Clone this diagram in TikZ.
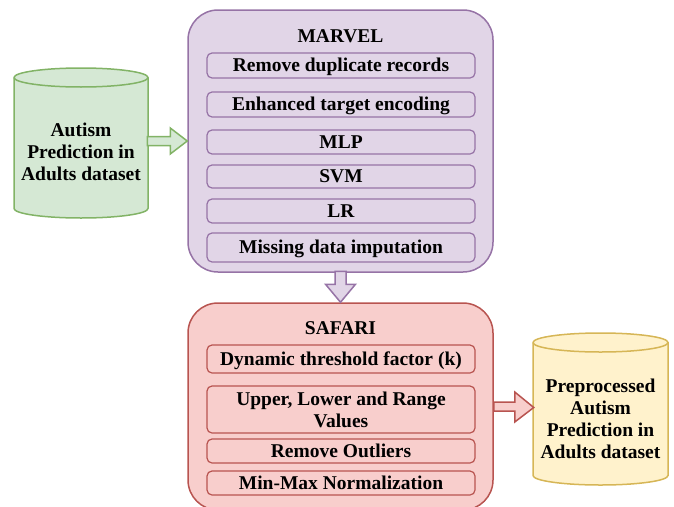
\documentclass[tikz,border=0pt]{standalone}
\usepackage{fontspec}
\setmainfont{Liberation Serif}
\usetikzlibrary{calc}
\definecolor{gfill}{HTML}{D5E8D4}\definecolor{gline}{HTML}{82B366}
\definecolor{pfill}{HTML}{E1D5E7}\definecolor{pline}{HTML}{9673A6}
\definecolor{rfill}{HTML}{F8CECC}\definecolor{rline}{HTML}{B85450}
\definecolor{yfill}{HTML}{FFF2CC}\definecolor{yline}{HTML}{D6B656}
\begin{document}
\begin{tikzpicture}[x=1pt,y=-1pt,
  txt/.style={font=\fontsize{19.5}{22}\selectfont\bfseries, align=center},
  outer/.style={draw, line width=1.5pt, rounded corners=30pt, minimum width=305pt, inner sep=0pt},
  inner/.style={txt, draw, line width=1.2pt, rounded corners=5pt, minimum width=268pt, inner sep=0pt},
  oneline/.style={text height=12.9pt, text depth=0pt},
  pbox/.style={inner, oneline, fill=pfill, draw=pline},
  rbox/.style={inner, fill=rfill, draw=rline},
  blockarrow/.style={line width=1.5pt, line join=miter}
]
\useasboundingbox (0,0) rectangle (674,506);

% input cylinder
\fill[gfill] (14,77.5) -- (14,208.5) arc[start angle=180,end angle=360,x radius=67,y radius=-9.5] -- (148,77.5) arc[start angle=0,end angle=180,x radius=67,y radius=-9.5] -- cycle;
\draw[gline, line width=1.5pt] (14,77.5) -- (14,208.5) arc[start angle=180,end angle=360,x radius=67,y radius=-9.5] -- (148,77.5) arc[start angle=0,end angle=180,x radius=67,y radius=-9.5] -- cycle;
\draw[gline, line width=1.5pt] (14,77.5) arc[start angle=180,end angle=360,x radius=67,y radius=-9.5];
\node[txt, minimum width=134pt] (in) at (81,152) {Autism\\Prediction in\\Adults dataset};

% output cylinder
\fill[yfill] (533,342.5) -- (533,475.5) arc[start angle=180,end angle=360,x radius=67.5,y radius=-9.5] -- (668,342.5) arc[start angle=0,end angle=180,x radius=67.5,y radius=-9.5] -- cycle;
\draw[yline, line width=1.5pt] (533,342.5) -- (533,475.5) arc[start angle=180,end angle=360,x radius=67.5,y radius=-9.5] -- (668,342.5) arc[start angle=0,end angle=180,x radius=67.5,y radius=-9.5] -- cycle;
\draw[yline, line width=1.5pt] (533,342.5) arc[start angle=180,end angle=360,x radius=67.5,y radius=-9.5];
\node[txt, minimum width=135pt] (out) at (600.5,419) {Preprocessed\\Autism\\Prediction in\\Adults dataset};

% MARVEL
\node[outer, fill=pfill, draw=pline, minimum height=262pt] (marvel) at (340.5,141) {};
\node[txt, oneline, inner sep=0pt] (mtitle) at (340.5,36.5) {MARVEL};
\node[pbox, minimum height=25pt] (m1) at (341,65.5) {Remove duplicate records};
\node[pbox, minimum height=25pt] (m2) at (341,104.5) {Enhanced target encoding};
\node[pbox, minimum height=24pt] (m3) at (341,142) {MLP};
\node[pbox, minimum height=23pt] (m4) at (341,176.5) {SVM};
\node[pbox, minimum height=24pt] (m5) at (341,211) {LR};
\node[pbox, minimum height=29pt] (m6) at (341,247.5) {Missing data imputation};

% SAFARI
\node[outer, fill=rfill, draw=rline, minimum height=207pt] (safari) at (340.5,406.5) {};
\node[txt, oneline, inner sep=0pt] (stitle) at (340.5,328) {SAFARI};
\node[rbox, oneline, minimum height=28pt] (s1) at (341,359) {Dynamic threshold factor (k)};
\node[rbox, minimum height=47pt] (s2) at (341,409.5) {Upper, Lower and Range\\Values};
\node[rbox, oneline, minimum height=24pt] (s3) at (341,451) {Remove Outliers};
\node[rbox, oneline, minimum height=24pt] (s4) at (341,483) {Min-Max Normalization};

% block arrows
\coordinate (gt) at (marvel.west);
\filldraw[blockarrow, fill=gfill, draw=gline]
  ($(gt)+(-40,-4.5)$) -- ($(gt)+(-17,-4.5)$) -- ($(gt)+(-17,-13)$) -- (gt)
  -- ($(gt)+(-17,13)$) -- ($(gt)+(-17,4.5)$) -- ($(gt)+(-40,4.5)$) -- cycle;
\coordinate (pt) at (safari.north);
\filldraw[blockarrow, fill=pfill, draw=pline]
  ($(pt)+(-5.5,-31)$) -- ($(pt)+(-5.5,-18)$) -- ($(pt)+(-15,-18)$) -- (pt)
  -- ($(pt)+(15,-18)$) -- ($(pt)+(5.5,-18)$) -- ($(pt)+(5.5,-31)$) -- cycle;
\coordinate (rs) at (safari.east);
\filldraw[blockarrow, fill=rfill, draw=rline]
  ($(rs)+(0,-4.5)$) -- ($(rs)+(21,-4.5)$) -- ($(rs)+(21,-14.5)$) -- ($(rs)+(40,1)$)
  -- ($(rs)+(21,15.5)$) -- ($(rs)+(21,4.5)$) -- ($(rs)+(0,4.5)$) -- cycle;
\end{tikzpicture}
\end{document}
